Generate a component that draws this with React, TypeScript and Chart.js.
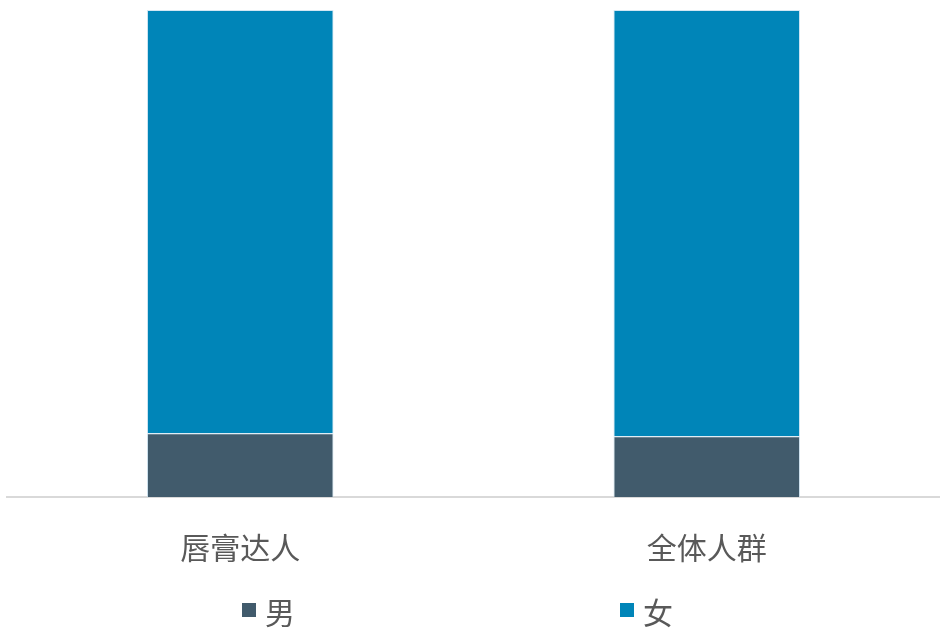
import React, { useEffect, useRef } from "react";
import { Chart, registerables } from "chart.js";

Chart.register(...registerables);

const categories = ["唇膏达人", "全体人群"];
const maleValues = [13.1, 12.5];
const femaleValues = [86.9, 87.5];
const seriesNames = ["男", "女"];
const seriesColors = ["#415B6C", "#0085B8"];

const FONT = '"Noto Sans CJK SC", "Microsoft YaHei", sans-serif';

export default function App() {
  const ref = useRef<HTMLCanvasElement | null>(null);

  useEffect(() => {
    document.body.style.margin = "0";
    const canvas = ref.current;
    if (!canvas) return;
    const chart = new Chart(canvas, {
      type: "bar",
      data: {
        labels: categories,
        datasets: [
          {
            label: seriesNames[0],
            data: maleValues,
            backgroundColor: seriesColors[0],
            borderColor: "rgba(200,225,240,0.8)",
            borderWidth: 1,
          },
          {
            label: seriesNames[1],
            data: femaleValues,
            backgroundColor: seriesColors[1],
            borderColor: "rgba(200,225,240,0.8)",
            borderWidth: 1,
          },
        ],
      },
      options: {
        animation: false,
        responsive: false,
        maintainAspectRatio: false,
        layout: { padding: { left: 7, right: 0, top: 10, bottom: 32 } },
        datasets: {
          bar: { categoryPercentage: 0.4, barPercentage: 1 },
        },
        plugins: {
          legend: { display: false },
          tooltip: { enabled: false },
        },
        scales: {
          x: {
            stacked: true,
            grid: { display: false, drawTicks: false },
            border: { display: true, color: "#d9d9d9", width: 2 },
            ticks: {
              color: "#595959",
              padding: 33,
              font: { family: FONT, size: 30 },
            },
          },
          y: {
            stacked: true,
            display: false,
            min: 0,
            max: 100,
          },
        },
      },
    });
    return () => chart.destroy();
  }, []);

  const legendItems = [
    { name: seriesNames[0], color: seriesColors[0], boxLeft: 242, textLeft: 265 },
    { name: seriesNames[1], color: seriesColors[1], boxLeft: 620, textLeft: 643 },
  ];

  return (
    <div style={{ position: "relative", width: 940, height: 631, background: "#fff", overflow: "hidden" }}>
      <canvas ref={ref} width={940} height={631} style={{ display: "block" }} />
      {legendItems.map((it) => (
        <React.Fragment key={it.name}>
          <div
            style={{
              position: "absolute",
              left: it.boxLeft,
              top: 603,
              width: 14,
              height: 14,
              background: it.color,
            }}
          />
          <div
            style={{
              position: "absolute",
              left: it.textLeft,
              top: 593,
              fontFamily: FONT,
              fontSize: 30,
              lineHeight: "36px",
              color: "#595959",
            }}
          >
            {it.name}
          </div>
        </React.Fragment>
      ))}
    </div>
  );
}
